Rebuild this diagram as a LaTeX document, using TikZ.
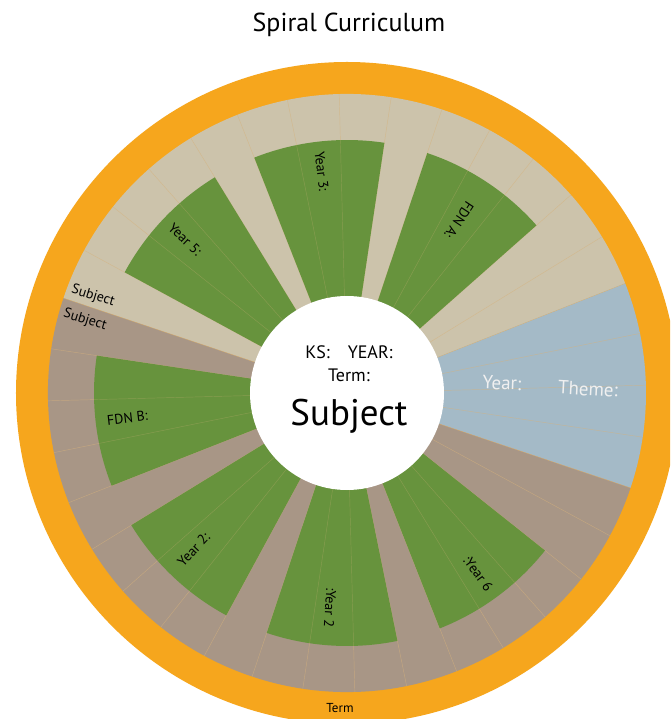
\documentclass[tikz,border=0pt]{standalone}
\usepackage{fontspec}
\setmainfont{PT Sans}
\definecolor{rimorange}{HTML}{F6A61D}
\definecolor{ringbeige}{HTML}{CCC3AB}
\definecolor{ringbrown}{HTML}{A89686}
\definecolor{ringblue}{HTML}{A4BAC7}
\definecolor{leafgreen}{HTML}{67933D}
\definecolor{slicetan}{HTML}{D6B27C}
% annular wedge: style, start angle, end angle, inner radius, outer radius (pt)
\newcommand\annwedge[5]{%
  \fill[#1] (#2:#4pt) arc[start angle=#2,end angle=#3,radius=#4pt]
    -- (#3:#5pt) arc[start angle=#3,end angle=#2,radius=#5pt] -- cycle;}
\tikzset{
  sliceline/.style={slicetan,opacity=0.6,line width=0.45pt},
  leafline/.style={slicetan,opacity=0.3,line width=0.45pt},
  leaflabel/.style={font=\fontsize{14}{16}\selectfont,text=black,inner sep=0pt},
  sidelabel/.style={font=\fontsize{14}{16}\selectfont,text=black,inner sep=0pt},
  bluelabel/.style={font=\fontsize{19}{22}\selectfont,text=white!94!black,inner sep=0pt}
}
\begin{document}
\begin{tikzpicture}[x=1pt,y=1pt]
\useasboundingbox (-347,-326) rectangle (323,393);
\clip (-347,-326) rectangle (323,393);
\fill[white] (-347,-326) rectangle (323,393);

% outer rim
\fill[rimorange] (0,0) circle[radius=331pt];

% coloured ring
\annwedge{ringbeige}{21.5}{161.5}{90}{299}
\annwedge{ringblue}{-18.5}{21.5}{90}{299}
\annwedge{ringbrown}{161.5}{341.5}{90}{299}
\foreach \a in {1.5,11.5,...,351.5}
  \draw[sliceline] (\a:97pt) -- (\a:299pt);

% green leaves, three slices each
\foreach \a in {41.5,81.5,121.5,171.5,211.5,251.5,291.5}{
  \pgfmathsetmacro\b{\a+30}
  \annwedge{leafgreen}{\a}{\b}{90}{253}
  \pgfmathsetmacro\c{\a+10}
  \pgfmathsetmacro\d{\a+20}
  \draw[leafline] (\c:97pt) -- (\c:253pt);
  \draw[leafline] (\d:97pt) -- (\d:253pt);
}

% hub
\fill[white] (0,0) circle[radius=97pt];

% leaf labels
\node[leaflabel,rotate=-43.5]  (y5)  at (136.5:223pt) {Year 5:};
\node[leaflabel,rotate=-83.5]  (y3)  at (96.5:223pt)  {Year 3:};
\node[leaflabel,rotate=-123.5] (fa)  at (57:206pt)    {FDN A:};
\node[leaflabel,rotate=6.5]    (fb)  at (186.5:221pt) {FDN B:};
\node[leaflabel,rotate=46.5]   (y2a) at (225.5:219pt) {Year 2:};
\node[leaflabel,rotate=-93.5]  (y2b) at (265.5:215pt) {:Year 2};
\node[leaflabel,rotate=-53.5]  (y6)  at (306:223pt)   {:Year 6};

% ring labels
\node[sidelabel,rotate=-17] (subA) at (-254,97) {Subject};
\node[sidelabel,rotate=-17] (subB) at (-262,73) {Subject};
\node[bluelabel,rotate=-2] (byear)  at (155,10) {Year:};
\node[bluelabel,rotate=-3] (btheme) at (241,4)  {Theme:};
\node[font=\fontsize{13}{15}\selectfont,inner sep=0pt] (term) at (-7,-315) {Term};

% hub texts
\node[font=\fontsize{18}{20}\selectfont,inner sep=0pt] (ks) at (2,41) {KS:\hspace{1em}YEAR:};
\node[font=\fontsize{18}{20}\selectfont,inner sep=0pt] (tm) at (2,18) {Term:};
\node[font=\fontsize{37}{40}\selectfont,inner sep=0pt] (subj) at (2,-23) {Subject};

% title
\node[font=\fontsize{26}{30}\selectfont,inner sep=0pt] (title) at (2,368) {Spiral Curriculum};
\end{tikzpicture}
\end{document}
